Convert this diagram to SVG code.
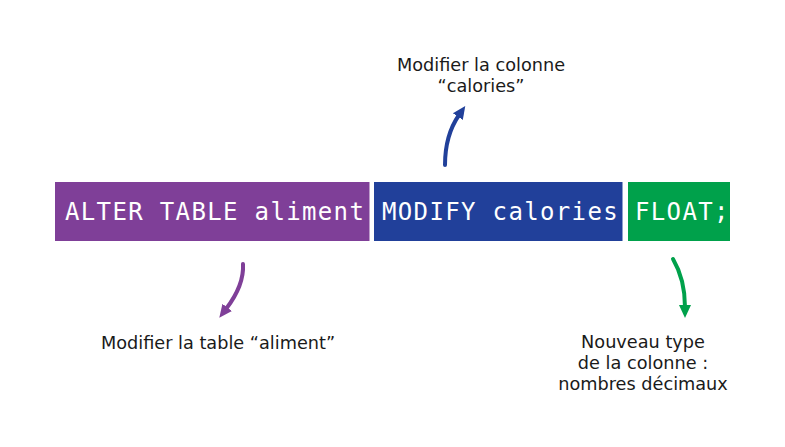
<svg xmlns="http://www.w3.org/2000/svg" width="785" height="447" viewBox="0 0 785 447">
<style>
.code{font-family:"DejaVu Sans Mono","Liberation Mono",monospace;font-size:24px;fill:#ffffff;letter-spacing:1.35px}
.lbl{font-family:"DejaVu Sans","Liberation Sans",sans-serif;font-size:17.7px;fill:#1a1a1a;text-anchor:middle}
.arr{fill:none;stroke-width:4;stroke-linecap:round}
</style>
<defs>
<marker id="mb" markerUnits="userSpaceOnUse" markerWidth="16" markerHeight="16" refX="2" refY="0" viewBox="0 -8 16 16" orient="auto"><path d="M0,-6 L13,0 L0,6 Z" fill="#21409a"/></marker>
<marker id="mp" markerUnits="userSpaceOnUse" markerWidth="16" markerHeight="16" refX="2" refY="0" viewBox="0 -8 16 16" orient="auto"><path d="M0,-6 L13,0 L0,6 Z" fill="#7f3f98"/></marker>
<marker id="mg" markerUnits="userSpaceOnUse" markerWidth="16" markerHeight="16" refX="2" refY="0" viewBox="0 -8 16 16" orient="auto"><path d="M0,-6 L13,0 L0,6 Z" fill="#00a14b"/></marker>
</defs>
<rect width="785" height="447" fill="#ffffff"/>
<g id="node-alter">
<rect x="55" y="182" width="314.5" height="59" fill="#7f3f98"/>
<text class="code" x="65" y="220">ALTER TABLE aliment</text>
</g>
<g id="node-modify">
<rect x="374" y="182" width="248.5" height="59" fill="#21409a"/>
<text class="code" x="382" y="220">MODIFY calories</text>
</g>
<g id="node-float">
<rect x="628" y="182" width="102" height="59" fill="#00a14b"/>
<text class="code" x="635" y="220">FLOAT;</text>
</g>
<g id="label-colonne">
<text class="lbl" x="481" y="71">Modifier la colonne</text>
<text class="lbl" x="481" y="91.5">“calories”</text>
</g>
<g id="label-table">
<text class="lbl" x="218" y="349">Modifier la table “aliment”</text>
</g>
<g id="label-type">
<text class="lbl" x="643" y="348">Nouveau type</text>
<text class="lbl" x="643" y="369">de la colonne :</text>
<text class="lbl" x="643" y="389.5">nombres décimaux</text>
</g>
<g id="connectors">
<path class="arr" stroke="#21409a" d="M445,165 C445,145 450,128 459,115" marker-end="url(#mb)"/>
<path class="arr" stroke="#7f3f98" d="M243,264 C244,281 236,296 226,309" marker-end="url(#mp)"/>
<path class="arr" stroke="#00a14b" d="M673,259 C680,271 685,286 685,307" marker-end="url(#mg)"/>
</g>
</svg>
